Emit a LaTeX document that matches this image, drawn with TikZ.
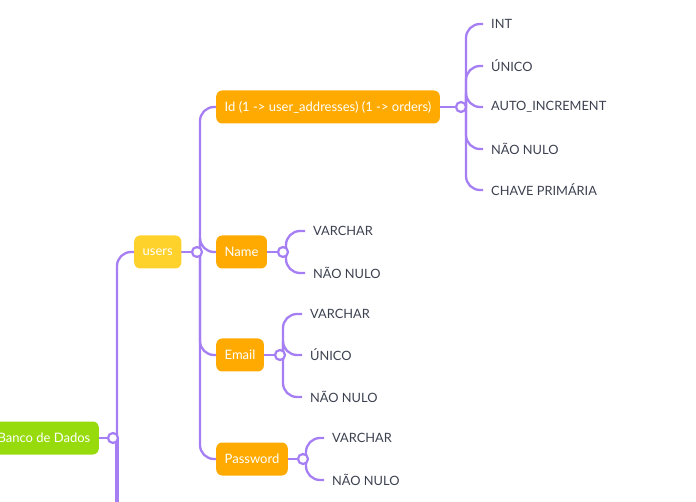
\documentclass[tikz,border=0pt]{standalone}
\usepackage{fontspec}
\setmainfont{Lato}
\usetikzlibrary{positioning,backgrounds}
\definecolor{linkPurple}{HTML}{A57EF4}
\definecolor{rootGreen}{HTML}{97DB0C}
\definecolor{usersYellow}{HTML}{FFD12B}
\definecolor{fieldOrange}{HTML}{FFAA00}
\definecolor{leafText}{HTML}{3C4150}
\tikzset{
    topic/.style={rounded corners=6pt, text=white, minimum height=33pt, inner xsep=8.5pt, font=\fontsize{13}{15}\selectfont},
    leaf/.style={text=leafText, inner xsep=8pt, anchor=west, font=\fontsize{12.8}{15}\selectfont},
    knot/.style={circle, draw=linkPurple, fill=white, line width=2.2pt, minimum size=10pt, inner sep=0pt},
    link/.style={draw=linkPurple, line width=2.3pt, rounded corners=14pt}
}

\begin{document}
\begin{tikzpicture}[x=1pt,y=-1pt]
    \useasboundingbox (0,0) rectangle (696,502);
    % topics
    \node[topic, fill=rootGreen, anchor=east] (db) at (99,438) {Banco de Dados};
    \node[knot] (dbK) at (113,438) {};
    \coordinate (more) at (117,530);
    \node[topic, fill=usersYellow, anchor=west] (users) at (134,252) {users};
    \node[knot] (usersK) at (197,252) {};
    \node[topic, fill=fieldOrange, anchor=west] (id) at (216,107) {Id (1 -> user\_addresses) (1 -> orders)};
    \node[knot] (idK) at (461,107) {};
    \node[topic, fill=fieldOrange, anchor=west] (name) at (216,252) {Name};
    \node[knot] (nameK) at (283,252) {};
    \node[topic, fill=fieldOrange, anchor=west] (email) at (216,355) {Email};
    \node[knot] (emailK) at (280,355) {};
    \node[topic, fill=fieldOrange, anchor=west] (pass) at (216,459) {Password};
    \node[knot] (passK) at (303,459) {};
    % leaves
    \node[leaf] (idInt) at (483,24) {INT};
    \node[leaf] (idUni) at (483,66) {ÚNICO};
    \node[leaf] (idAuto) at (483,107) {AUTO\_INCREMENT};
    \node[leaf] (idNn) at (483,149) {NÃO NULO};
    \node[leaf] (idPk) at (483,190) {CHAVE PRIMÁRIA};
    \node[leaf] (nameVc) at (305,231) {VARCHAR};
    \node[leaf] (nameNn) at (305,273) {NÃO NULO};
    \node[leaf] (emailVc) at (302,314) {VARCHAR};
    \node[leaf] (emailUni) at (302,355) {ÚNICO};
    \node[leaf] (emailNn) at (302,397) {NÃO NULO};
    \node[leaf] (passVc) at (324,438) {VARCHAR};
    \node[leaf] (passNn) at (324,480) {NÃO NULO};
    % links
    \begin{scope}[on background layer]
        \draw[link] (db) -- (dbK);
        \draw[link] ([xshift=4pt]dbK.center) |- (users.west);
        \draw[link, line width=4pt] ([xshift=4pt]dbK.center) -- (more);
        \draw[link] (users) -- (usersK);
        \foreach \f in {id,name,email,pass}
            \draw[link] ([xshift=3pt]usersK.center) |- (\f.west);
        \draw[link] (id) -- (idK);
        \foreach \l in {idInt,idUni,idAuto,idNn,idPk}
            \draw[link] ([xshift=5pt]idK.center) |- (\l.west);
        \draw[link] (name) -- (nameK);
        \foreach \l in {nameVc,nameNn}
            \draw[link] ([xshift=3pt]nameK.center) |- (\l.west);
        \draw[link] (email) -- (emailK);
        \foreach \l in {emailVc,emailUni,emailNn}
            \draw[link] ([xshift=3pt]emailK.center) |- (\l.west);
        \draw[link] (pass) -- (passK);
        \foreach \l in {passVc,passNn}
            \draw[link] ([xshift=3pt]passK.center) |- (\l.west);
    \end{scope}
\end{tikzpicture}
\end{document}
